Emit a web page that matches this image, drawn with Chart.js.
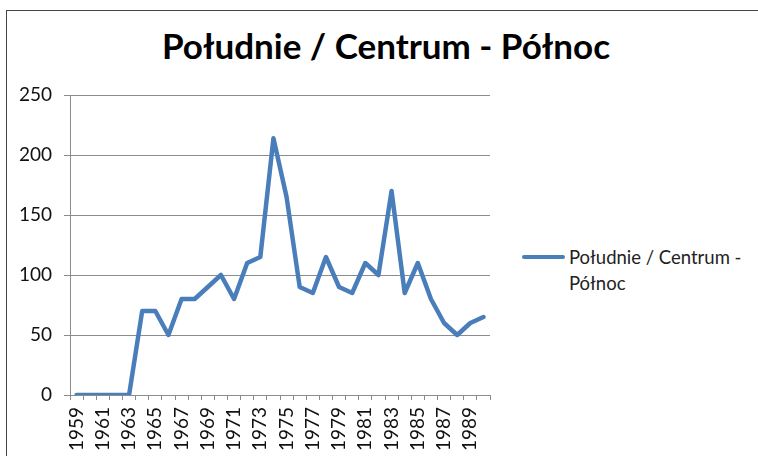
<!DOCTYPE html>
<html>
<head>
<meta charset="utf-8">
<script src="https://cdn.jsdelivr.net/npm/chart.js@4/dist/chart.umd.min.js"></script>
<style>
  body { margin: 0; background: #fff; overflow: hidden; }
  #wrap { position: relative; width: 758px; height: 456px; overflow: hidden; }
  #frame { position: absolute; left: 6px; top: 10px; width: 800px; height: 500px; border: 1px solid #444; }
  #title { position: absolute; left: 0; top: 24px; width: 772px; text-align: center;
           font: bold 35px Lato, sans-serif; color: #000; }
  #legend { position: absolute; left: 522px; top: 244px; font: 18.5px Lato, sans-serif; color: #222; line-height: 26px; }
  #legend .swatch { position: absolute; left: 0; top: 11px; width: 43px; height: 4px; background: #4a7ebb; border-radius: 2px; }
  #legend .txt { margin-left: 47px; width: 200px; }
  canvas { position: absolute; left: 0; top: 0; }
</style>
</head>
<body>
<div id="wrap">
  <div id="frame"></div>
  <div id="title">Południe / Centrum - Północ</div>
  <div id="legend"><div class="swatch"></div><div class="txt">Południe / Centrum - Północ</div></div>
  <canvas id="chart" width="758" height="456"></canvas>
</div>
<script>
var seriesName = 'Południe / Centrum - Północ';
var years = ['1959','1960','1961','1962','1963','1964','1965','1966','1967','1968',
             '1969','1970','1971','1972','1973','1974','1975','1976','1977','1978',
             '1979','1980','1981','1982','1983','1984','1985','1986','1987','1988',
             '1989','1990'];
var values = [0, 0, 0, 0, 0, 70, 70, 50, 80, 80,
              90, 100, 80, 110, 115, 214, 165, 90, 85, 115,
              90, 85, 110, 100, 170, 85, 110, 80, 60, 50,
              60, 65];
var yTicks = [0, 50, 100, 150, 200, 250];

var gridColor = '#8c8c8c';

var chart = new Chart(document.getElementById('chart'), {
  type: 'line',
  data: {
    labels: years,
    datasets: [{
      label: seriesName,
      data: values,
      borderColor: '#4a7ebb',
      borderWidth: 4.5,
      borderJoinStyle: 'round',
      borderCapStyle: 'round',
      pointRadius: 0,
      tension: 0,
      fill: false
    }]
  },
  options: {
    responsive: false,
    animation: false,
    layout: { padding: { left: 0, right: 268, top: 95, bottom: 0 } },
    plugins: { legend: { display: false }, title: { display: false }, tooltip: { enabled: false } },
    scales: {
      x: {
        offset: true,
        grid: { offset: true, drawOnChartArea: false, drawTicks: true, tickLength: 5, color: gridColor },
        border: { color: gridColor },
        ticks: {
          autoSkip: false, minRotation: 90, maxRotation: 90, padding: 7,
          color: '#111', font: { family: 'Lato', size: 19 },
          callback: function(v, i) { return i % 2 === 0 ? years[i] : ''; }
        },
        afterFit: function(s) { s.height = 61; }
      },
      y: {
        min: 0, max: 250,
        afterBuildTicks: function(s) { s.ticks = yTicks.map(function(v) { return { value: v }; }); },
        grid: { color: gridColor, tickLength: 6 },
        border: { color: gridColor },
        ticks: { color: '#111', padding: 12, font: { family: 'Lato', size: 19 } },
        afterFit: function(s) { s.width = 70; }
      }
    }
  }
});
</script>
</body>
</html>
